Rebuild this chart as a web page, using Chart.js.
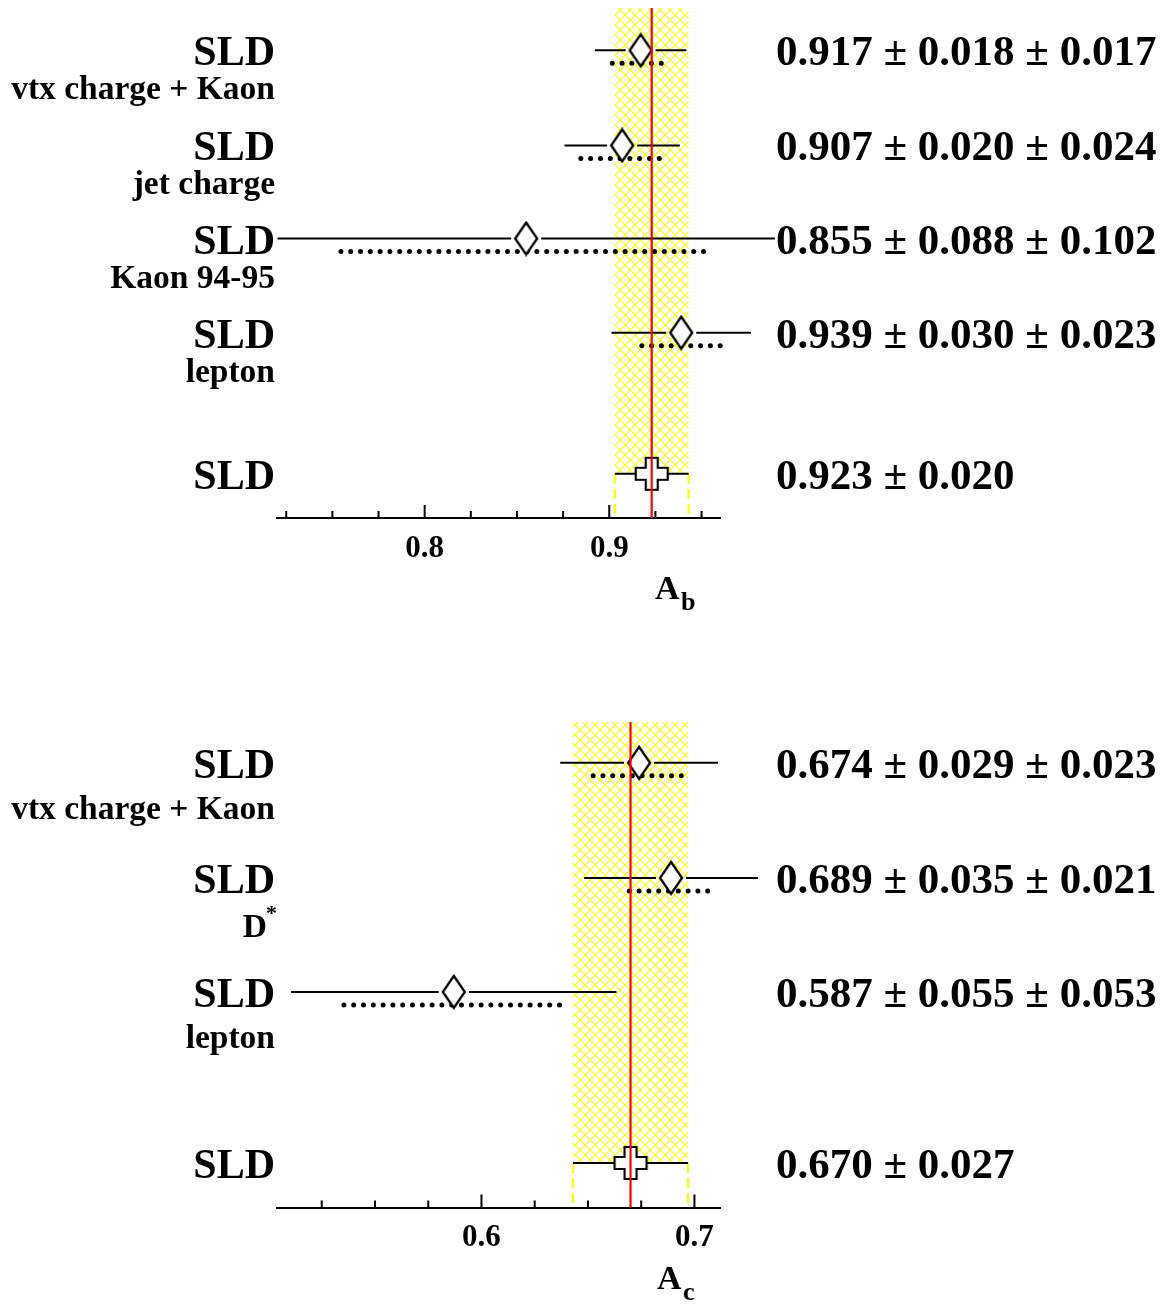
<!DOCTYPE html>
<html>
<head>
<meta charset="utf-8">
<script src="https://cdn.jsdelivr.net/npm/chart.js@4.4.1/dist/chart.umd.min.js"></script>
<style>
  html, body { margin: 0; padding: 0; background: #fff; }
  #wrap { position: relative; width: 1164px; height: 1304px; }
  canvas { position: absolute; left: 0; }
</style>
</head>
<body>
<div id="wrap">
  <canvas id="chartB" width="1164" height="640" style="top:0px"></canvas>
  <canvas id="chartC" width="1164" height="664" style="top:640px"></canvas>
</div>
<script>
// ---- A_b panel ----
const bLabels = ['vtx charge + Kaon', 'jet charge', 'Kaon 94-95', 'lepton'];
const bValues = [0.917, 0.907, 0.855, 0.939];
const bStat   = [0.018, 0.020, 0.088, 0.030];
const bSyst   = [0.017, 0.024, 0.102, 0.023];
const bRows   = [4.97, 3.96, 2.97, 1.97];
const bAvg = 0.923, bAvgErr = 0.020, bAvgRow = 0.47;
const bTickValues = [0.725, 0.75, 0.775, 0.8, 0.825, 0.85, 0.875, 0.9, 0.925, 0.95];
const bTickLabels = ['0.8', '0.9'];

// ---- A_c panel ----
const cLabels = ['vtx charge + Kaon', 'D', 'lepton'];
const cValues = [0.674, 0.689, 0.587];
const cStat   = [0.029, 0.035, 0.055];
const cSyst   = [0.023, 0.021, 0.053];
const cRows   = [3.865, 2.865, 1.874];
const cAvg = 0.670, cAvgErr = 0.027, cAvgRow = 0.387;
const cTickValues = [0.525, 0.55, 0.575, 0.6, 0.625, 0.65, 0.675, 0.7];
const cTickLabels = ['0.6', '0.7'];

const SERIF = '"Liberation Serif", "Times New Roman", serif';

// marker images used as point styles
function diamondImg() {
  const c = document.createElement('canvas');
  c.width = 26; c.height = 36;
  const g = c.getContext('2d');
  g.beginPath();
  g.moveTo(13, 2); g.lineTo(24, 18); g.lineTo(13, 34); g.lineTo(2, 18); g.closePath();
  g.fillStyle = '#fff'; g.fill();
  g.lineWidth = 2.3; g.strokeStyle = '#000'; g.stroke();
  return c;
}
function crossImg() {
  const c = document.createElement('canvas');
  c.width = 36; c.height = 36;
  const g = c.getContext('2d');
  const m = 18, h = 16, a = 6;
  g.beginPath();
  g.moveTo(m - a, m - h); g.lineTo(m + a, m - h); g.lineTo(m + a, m - a);
  g.lineTo(m + h, m - a); g.lineTo(m + h, m + a); g.lineTo(m + a, m + a);
  g.lineTo(m + a, m + h); g.lineTo(m - a, m + h); g.lineTo(m - a, m + a);
  g.lineTo(m - h, m + a); g.lineTo(m - h, m - a); g.lineTo(m - a, m - a);
  g.closePath();
  g.fillStyle = '#fff'; g.fill();
  g.lineWidth = 2.2; g.strokeStyle = '#000'; g.stroke();
  return c;
}
function hatchPattern(ctx) {
  // crisp pixel cross-hatch, 10px cell
  const c = document.createElement('canvas');
  c.width = 10; c.height = 10;
  const g = c.getContext('2d');
  g.fillStyle = '#ffff00';
  for (let i = 0; i < 10; i++) {
    g.fillRect(i, i, 1, 1);
    g.fillRect(9 - i, i, 1, 1);
  }
  g.fillStyle = 'rgba(255,255,0,0.45)';
  for (let i = 0; i < 10; i++) {
    g.fillRect((i + 1) % 10, i, 1, 1);
    g.fillRect((10 - i) % 10, i, 1, 1);
  }
  return ctx.createPattern(c, 'repeat');
}

const DIAMOND = diamondImg();
const CROSS = crossImg();

function panelPlugin(p) {
  return {
    id: 'panel',
    beforeDatasetsDraw(chart) {
      const { ctx, chartArea, scales: { x, y } } = chart;
      const xl = x.getPixelForValue(p.avg - p.avgErr);
      const xr = x.getPixelForValue(p.avg + p.avgErr);
      const ya = y.getPixelForValue(p.avgRow);
      ctx.save();
      // hatched average band
      ctx.fillStyle = hatchPattern(ctx);
      ctx.fillRect(xl, chartArea.top, xr - xl, ya - chartArea.top);
      ctx.strokeStyle = '#ffff00';
      ctx.lineWidth = 2.2;
      ctx.setLineDash([10, 5]);
      ctx.beginPath();
      ctx.moveTo(xl, ya); ctx.lineTo(xl, chartArea.bottom);
      ctx.moveTo(xr, ya); ctx.lineTo(xr, chartArea.bottom);
      ctx.stroke();
      ctx.setLineDash([]);

      // error bars: solid = total, dotted = systematic
      ctx.strokeStyle = '#000';
      ctx.fillStyle = '#000';
      ctx.lineWidth = 2;
      p.values.forEach((v, i) => {
        const tot = Math.hypot(p.stat[i], p.syst[i]);
        const cx = x.getPixelForValue(v);
        const cy = y.getPixelForValue(p.rows[i]);
        ctx.beginPath();
        ctx.moveTo(x.getPixelForValue(v - tot), cy); ctx.lineTo(cx - 15, cy);
        ctx.moveTo(cx + 15, cy); ctx.lineTo(x.getPixelForValue(v + tot), cy);
        ctx.stroke();
        const s0 = x.getPixelForValue(v - p.syst[i]);
        const s1 = x.getPixelForValue(v + p.syst[i]);
        for (let px = s0 + 3; px <= s1 - 3; px += 9.8) {
          ctx.beginPath();
          ctx.arc(px, cy + 13, 2.5, 0, Math.PI * 2);
          ctx.fill();
        }
      });
      ctx.beginPath();
      ctx.moveTo(xl, ya); ctx.lineTo(xr, ya);
      ctx.stroke();
      ctx.restore();
    },
    afterDatasetsDraw(chart) {
      const { ctx, chartArea, scales: { x, y } } = chart;
      ctx.save();
      // red average line
      const xa = x.getPixelForValue(p.avg);
      ctx.strokeStyle = '#ff0000';
      ctx.lineWidth = 2.2;
      ctx.beginPath();
      ctx.moveTo(xa, chartArea.top); ctx.lineTo(xa, chartArea.bottom);
      ctx.stroke();

      // tick marks pointing up
      ctx.strokeStyle = '#000';
      ctx.lineWidth = 2;
      x.ticks.forEach(t => {
        const px = x.getPixelForValue(t.value);
        const len = t.label ? 13 : 7;
        ctx.beginPath();
        ctx.moveTo(px, chartArea.bottom); ctx.lineTo(px, chartArea.bottom - len);
        ctx.stroke();
      });

      // labels
      ctx.fillStyle = '#000';
      ctx.textBaseline = 'alphabetic';
      const rowText = (row, sub, valStr, star) => {
        const cy = y.getPixelForValue(row);
        ctx.font = 'bold 42px ' + SERIF;
        ctx.textAlign = 'right';
        ctx.fillText('SLD', 275, cy + 15);
        ctx.font = 'bold 43px ' + SERIF;
        ctx.textAlign = 'left';
        ctx.fillText(valStr, 776, cy + 15);
        if (sub) {
          ctx.font = 'bold 33.5px ' + SERIF;
          ctx.textAlign = 'right';
          if (star) {
            ctx.fillText(sub, 267, cy + p.subOff + 3);
            ctx.font = 'bold 22px ' + SERIF;
            ctx.textAlign = 'left';
            ctx.fillText('*', 266, cy + p.subOff - 14);
          } else {
            ctx.fillText(sub, 275, cy + p.subOff);
          }
        }
      };
      p.values.forEach((v, i) => {
        const s = v.toFixed(3) + ' \u00b1 ' + p.stat[i].toFixed(3) + ' \u00b1 ' + p.syst[i].toFixed(3);
        rowText(p.rows[i], p.labels[i], s, p.labels[i] === 'D');
      });
      rowText(p.avgRow, null, p.avg.toFixed(3) + ' \u00b1 ' + p.avgErr.toFixed(3), false);

      // axis title with subscript
      ctx.textAlign = 'left';
      ctx.font = 'bold 34px ' + SERIF;
      ctx.fillText('A', p.titleX, p.titleY);
      ctx.font = 'bold 26px ' + SERIF;
      ctx.fillText(p.sub, p.titleX + 26, p.titleY + 11);
      ctx.restore();
    }
  };
}

function makePanel(id, p) {
  const ctx = document.getElementById(id).getContext('2d');
  return new Chart(ctx, {
    type: 'scatter',
    data: {
      datasets: [{
        data: p.values.map((v, i) => ({ x: v, y: p.rows[i] })),
        pointStyle: DIAMOND,
        pointRadius: 12,
        clip: false
      }, {
        data: [{ x: p.avg, y: p.avgRow }],
        pointStyle: CROSS,
        pointRadius: 16,
        clip: false
      }]
    },
    options: {
      responsive: false,
      animation: false,
      events: [],
      layout: {
        autoPadding: false,
        padding: { left: 277, right: 444, top: p.padTop, bottom: p.padBottom }
      },
      scales: {
        x: {
          type: 'linear',
          min: p.xMin,
          max: p.xMax,
          afterBuildTicks: s => { s.ticks = p.tickValues.map(v => ({ value: v })); },
          afterFit: s => { s.height = 60; },
          grid: { display: false, drawTicks: false },
          border: { display: true, color: '#000', width: 2 },
          ticks: {
            autoSkip: false,
            maxRotation: 0,
            padding: 12,
            color: '#000',
            font: { family: SERIF, size: 31, weight: 'bold' },
            callback: v => {
              const l = Number(v).toFixed(1);
              return Math.abs(v - Number(l)) < 1e-9 && p.tickLabels.includes(l) ? l : '';
            }
          }
        },
        y: { type: 'linear', display: false, min: 0, max: p.yMax }
      },
      plugins: { legend: { display: false }, tooltip: { enabled: false } }
    },
    plugins: [panelPlugin(p)]
  });
}

makePanel('chartB', {
  labels: bLabels, values: bValues, stat: bStat, syst: bSyst, rows: bRows,
  avg: bAvg, avgErr: bAvgErr, avgRow: bAvgRow,
  tickValues: bTickValues, tickLabels: bTickLabels,
  xMin: 0.72, xMax: 0.96, yMax: 5.42,
  padTop: 8, padBottom: 62, subOff: 49,
  sub: 'b', titleX: 655, titleY: 599
});

makePanel('chartC', {
  labels: cLabels, values: cValues, stat: cStat, syst: cSyst, rows: cRows,
  avg: cAvg, avgErr: cAvgErr, avgRow: cAvgRow,
  tickValues: cTickValues, tickLabels: cTickLabels,
  xMin: 0.504, xMax: 0.712, yMax: 4.22,
  padTop: 82, padBottom: 36.5, subOff: 56,
  sub: 'c', titleX: 657, titleY: 649
});
</script>
</body>
</html>
